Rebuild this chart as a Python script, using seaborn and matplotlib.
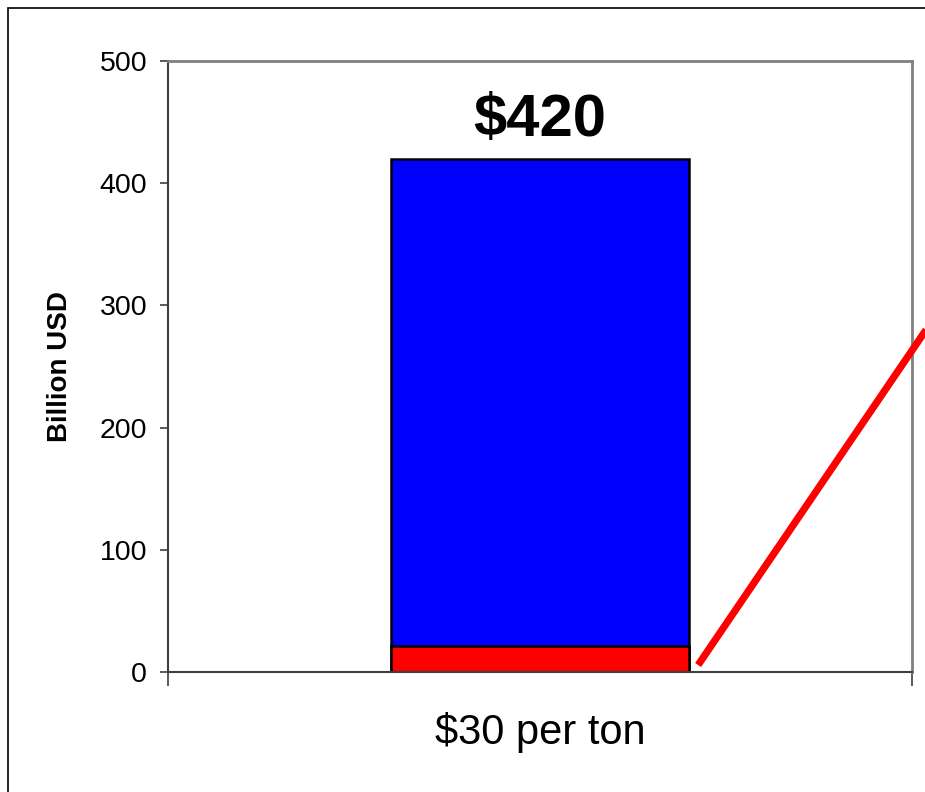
import matplotlib
matplotlib.use("Agg")
import matplotlib.pyplot as plt
import seaborn as sns
import pandas as pd
from matplotlib.patches import Rectangle

# Data
categories = ["$30 per ton"]
total_values = [420]      # blue part goes up to the total
base_values = [21]        # red part at the bottom
y_ticks = [0, 100, 200, 300, 400, 500]

# decorative red line at the lower right (data coords)
line_x = [0.425, 1.06]
line_y = [5.7, 290]

sns.set_theme(style="white")
plt.rcParams["font.family"] = ["Liberation Sans", "DejaVu Sans"]
plt.rcParams["text.color"] = "black"
plt.rcParams["axes.labelcolor"] = "black"
plt.rcParams["xtick.color"] = "black"
plt.rcParams["ytick.color"] = "black"

df = pd.DataFrame({"cat": categories, "total": total_values, "base": base_values})

fig = plt.figure(figsize=(9.25, 7.92), dpi=100)
ax = fig.add_axes([168 / 925, 1 - 672 / 792, 744 / 925, 611 / 792])

# stacked bar: draw the full bar then the bottom part over it
sns.barplot(data=df, x="cat", y="total", color="#0000FF", saturation=1,
            edgecolor="black", linewidth=1.8, width=0.8, ax=ax)
sns.barplot(data=df, x="cat", y="base", color="#FF0000", saturation=1,
            edgecolor="black", linewidth=1.8, width=0.8, ax=ax)

ax.set_xlim(-1, 1)
ax.set_ylim(0, 500)
ax.set_yticks(y_ticks)
ax.tick_params(axis="y", labelsize=20.5, length=6, width=1.2, color="#404040",
               labelcolor="black", pad=9, left=True, direction="out")

# category label, with boundary ticks at the axis edges
ax.set_xticks([0])
ax.set_xticklabels(categories)
ax.tick_params(axis="x", which="major", length=0, labelsize=30, pad=29,
               labelcolor="black")
ax.set_xticks([-1, 1], minor=True)
ax.tick_params(axis="x", which="minor", length=10, width=1.2, color="#404040",
               bottom=True, direction="out")
ax.set_xlabel("")

ax.set_ylabel("Billion USD", fontsize=20, fontweight="bold", color="black")
ax.yaxis.set_label_coords(-0.128, 0.5)

for side in ["left", "bottom"]:
    ax.spines[side].set_color("#404040")
    ax.spines[side].set_linewidth(1.5)
for side in ["top", "right"]:
    ax.spines[side].set_color("#808080")
    ax.spines[side].set_linewidth(2)

# total label above the bar
ax.text(0, 451, "\\$%d" % total_values[0], ha="center", va="center",
        fontsize=43, fontweight="bold", color="black")

ax.plot(line_x, line_y, color="#FF0000", linewidth=5.2, clip_on=False,
        solid_capstyle="butt", zorder=5)

# outer frame of the slide
fig.patches.append(Rectangle((8 / 925, -0.1), 1.2, 1.1 - 7.5 / 792, fill=False,
                             edgecolor="black", linewidth=1.2,
                             transform=fig.transFigure, figure=fig))

fig.savefig("out.png", dpi=100)
